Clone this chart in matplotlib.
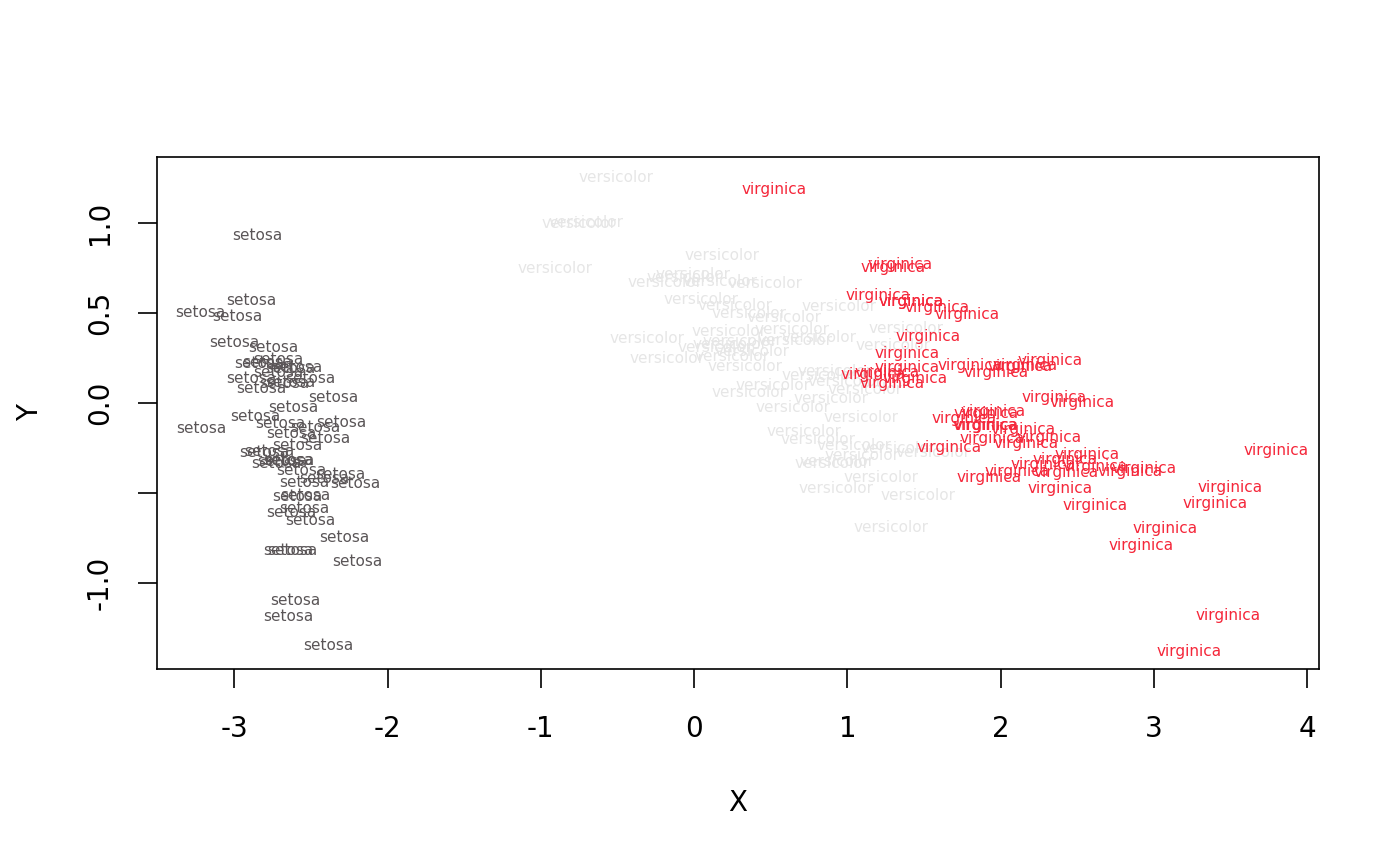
import numpy as np
import matplotlib
matplotlib.use("Agg")
from matplotlib import pyplot as plt

# scores on the first two principal components (iris), read per species
setosa_x = [-2.684, -2.714, -2.889, -2.745, -2.729, -2.281, -2.821, -2.626, -2.886, -2.673,
            -2.507, -2.613, -2.786, -3.224, -2.645, -2.386, -2.624, -2.648, -2.200, -2.588,
            -2.310, -2.544, -3.216, -2.303, -2.356, -2.507, -2.469, -2.562, -2.640, -2.632,
            -2.587, -2.410, -2.649, -2.599, -2.637, -2.866, -2.625, -2.801, -2.981, -2.590,
            -2.770, -2.849, -2.997, -2.406, -2.209, -2.714, -2.538, -2.839, -2.543, -2.703]
setosa_y = [-0.319, 0.177, 0.145, 0.318, -0.327, -0.741, 0.089, -0.163, 0.578, 0.114,
            -0.645, -0.015, 0.235, 0.511, -1.179, -1.338, -0.811, -0.312, -0.873, -0.514,
            -0.391, -0.433, -0.133, -0.099, 0.037, 0.146, -0.131, -0.368, -0.312, 0.197,
            0.204, -0.411, -0.813, -1.093, 0.121, -0.069, -0.599, -0.269, 0.488, -0.229,
            -0.264, 0.941, 0.342, -0.189, -0.437, 0.250, -0.504, 0.228, -0.579, -0.108]

versicolor_x = [1.285, 0.932, 1.464, 0.183, 1.088, 0.642, 1.095, -0.749, 1.044, -0.009,
                -0.511, 0.512, 0.265, 0.985, -0.174, 0.928, 0.660, 0.236, 0.945, 0.045,
                1.116, 0.358, 1.298, 0.922, 0.715, 0.900, 1.332, 1.558, 0.813, -0.306,
                -0.068, -0.190, 0.136, 1.380, 0.588, 0.807, 1.221, 0.815, 0.246, 0.166,
                0.465, 0.891, 0.231, -0.705, 0.357, 0.332, 0.376, 0.643, -0.906, 0.299]
versicolor_y = [-0.685, -0.318, -0.504, 0.828, -0.075, 0.418, -0.283, 1.005, -0.228, 0.723,
                1.262, 0.104, 0.550, 0.125, 0.255, -0.467, 0.353, 0.334, 0.543, 0.584,
                0.085, 0.069, 0.328, 0.183, -0.149, -0.329, -0.244, -0.267, 0.163, 0.368,
                0.705, 0.680, 0.314, 0.421, 0.484, -0.194, -0.408, 0.372, 0.269, 0.682,
                0.671, 0.034, 0.404, 1.012, 0.505, 0.213, 0.293, -0.018, 0.756, 0.349]

virginica_x = [2.531, 1.415, 2.617, 1.972, 2.350, 3.397, 0.521, 2.933, 2.321, 2.917,
               1.662, 1.803, 2.166, 1.346, 1.586, 1.904, 1.950, 3.487, 3.796, 1.301,
               2.428, 1.199, 3.500, 1.389, 2.275, 2.614, 1.259, 1.291, 2.124, 2.388,
               2.842, 3.231, 2.159, 1.444, 1.781, 3.076, 2.144, 1.905, 1.169, 2.108,
               2.314, 1.922, 1.415, 2.563, 2.419, 1.944, 1.527, 1.764, 1.901, 1.390]
virginica_y = [0.010, 0.575, -0.344, 0.180, 0.040, -0.551, 1.193, -0.356, 0.244, -0.783,
               -0.242, 0.216, -0.216, 0.777, 0.540, -0.119, -0.042, -1.176, -0.257, 0.761,
               -0.378, 0.606, -0.461, 0.204, -0.335, -0.561, 0.180, 0.117, 0.210, -0.465,
               -0.375, -1.374, 0.217, 0.143, 0.500, -0.688, -0.140, -0.049, 0.165, -0.372,
               -0.184, -0.409, 0.575, -0.278, -0.305, -0.188, 0.375, -0.079, -0.117, 0.283]

especies = ["setosa", "versicolor", "virginica"]
cores = {"setosa": "#5a5557", "versicolor": "#e6e6e6", "virginica": "#f5273a"}
dados = {"setosa": (setosa_x, setosa_y),
         "versicolor": (versicolor_x, versicolor_y),
         "virginica": (virginica_x, virginica_y)}

fig = plt.figure(figsize=(14, 8.66), dpi=100)
ax = fig.add_axes([0.1121, 0.2275, 0.83, 0.5912])

todosX = []
todosY = []
for esp in especies:
    xs, ys = dados[esp]
    todosX += xs
    todosY += ys
    for x, y in zip(xs, ys):
        ax.text(x, y, esp, color=cores[esp], fontsize=11, ha="center", va="center_baseline")

# limites como no R (4% de folga)
dx = (max(todosX) - min(todosX)) * 0.04
dy = (max(todosY) - min(todosY)) * 0.04
ax.set_xlim(min(todosX) - dx, max(todosX) + dx)
ax.set_ylim(min(todosY) - dy, max(todosY) + dy)

ax.set_xticks([-3, -2, -1, 0, 1, 2, 3, 4])
ax.set_xticklabels(["-3", "-2", "-1", "0", "1", "2", "3", "4"])
ax.set_yticks([-1.0, -0.5, 0.0, 0.5, 1.0])
ax.set_yticklabels(["-1.0", "", "0.0", "0.5", "1.0"], rotation=90, va="center")

ax.tick_params(axis="both", direction="out", length=14, width=1.2, labelsize=20)
ax.tick_params(axis="x", pad=19)
ax.tick_params(axis="y", pad=17)
for s in ax.spines.values():
    s.set_linewidth(1.2)

ax.set_xlabel("X", fontsize=20, labelpad=33)
ax.set_ylabel("Y", fontsize=20, labelpad=30)

fig.savefig("out.png", dpi=100)
